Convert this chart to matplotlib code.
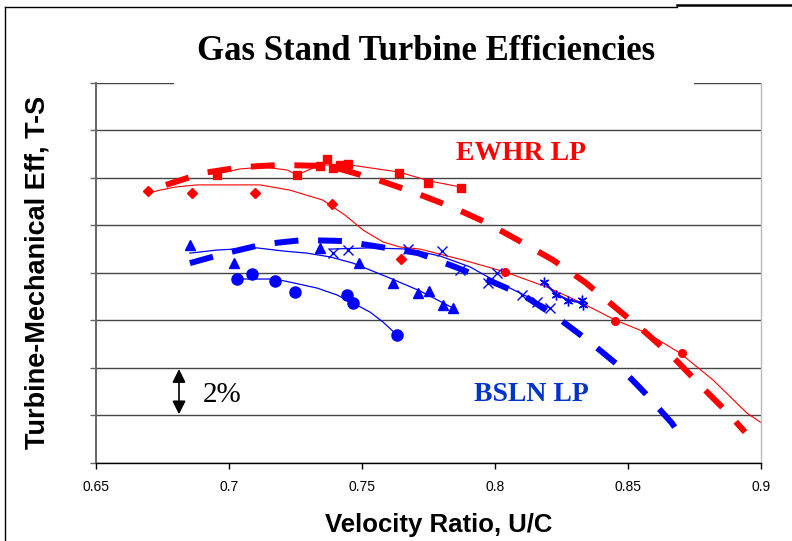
import matplotlib
matplotlib.use("Agg")
import matplotlib.pyplot as plt
from matplotlib.lines import Line2D
from matplotlib.patches import Rectangle

# EWHR LP test points (diamonds + round points share one trend line)
ewhr_d_x = [0.6697, 0.6860, 0.7098, 0.7388, 0.7645]
ewhr_d_y = [71.46, 71.37, 71.37, 70.90, 68.58]
ewhr_c_x = [0.8038, 0.8451, 0.8703]
ewhr_c_y = [68.04, 65.97, 64.63]
ewhr_d_fit_x = [0.6695, 0.6741, 0.6797, 0.6880, 0.7117, 0.7229, 0.7353, 0.7436, 0.7504,
                0.7579, 0.7642, 0.7718, 0.7880, 0.8038, 0.8195, 0.8320, 0.8451, 0.8571,
                0.8695, 0.8820, 0.8947, 0.9000]
ewhr_d_fit_y = [71.36, 71.48, 71.61, 71.70, 71.70, 71.48, 71.06, 70.43, 69.80,
                69.30, 69.09, 69.00, 68.54, 68.04, 67.40, 66.77, 66.02, 65.47,
                64.63, 63.49, 62.10, 61.70]

# EWHR LP squares
ewhr_s_x = [0.6954, 0.7256, 0.7342, 0.7368, 0.7391, 0.7417, 0.7447, 0.7639, 0.7748, 0.7872]
ewhr_s_y = [72.12, 72.12, 72.49, 72.79, 72.41, 72.54, 72.58, 72.20, 71.78, 71.57]
ewhr_s_fit_x = [0.6951, 0.7041, 0.7128, 0.7218, 0.7256, 0.7342, 0.7455, 0.7639, 0.7756, 0.7872]
ewhr_s_fit_y = [72.16, 72.37, 72.45, 72.33, 72.12, 72.54, 72.54, 72.24, 71.86, 71.61]

# EWHR LP prediction
ewhr_pred_x = [0.6763, 0.6902, 0.7049, 0.7192, 0.7380, 0.7560, 0.7692, 0.7838, 0.7962,
               0.8086, 0.8218, 0.8338, 0.8451, 0.8564, 0.8669, 0.8771, 0.8876, 0.8940]
ewhr_pred_y = [71.70, 72.20, 72.45, 72.54, 72.49, 71.91, 71.40, 70.77, 70.14,
               69.38, 68.54, 67.61, 66.56, 65.51, 64.46, 63.28, 62.10, 61.30]

# BSLN LP prediction
bsln_pred_x = [0.6853, 0.6989, 0.7132, 0.7278, 0.7429, 0.7568, 0.7711, 0.7850, 0.7992,
               0.8105, 0.8237, 0.8357, 0.8462, 0.8564, 0.8665, 0.8707]
bsln_pred_y = [68.41, 68.83, 69.21, 69.38, 69.34, 69.09, 68.83, 68.25, 67.61,
               67.07, 66.10, 65.09, 64.12, 62.94, 61.68, 60.97]

# BSLN LP triangles
bsln_t_x = [0.6853, 0.7019, 0.7342, 0.7489, 0.7617, 0.7711, 0.7752, 0.7805, 0.7842]
bsln_t_y = [69.17, 68.41, 69.05, 68.41, 67.57, 67.15, 67.24, 66.65, 66.52]
bsln_t_fit_x = [0.6853, 0.6955, 0.7105, 0.7203, 0.7293, 0.7380, 0.7466, 0.7530, 0.7605, 0.7718, 0.7842]
bsln_t_fit_y = [68.83, 68.96, 69.05, 68.92, 68.83, 68.67, 68.41, 68.12, 67.78, 67.24, 66.52]

# BSLN LP circles
bsln_c_x = [0.7030, 0.7086, 0.7173, 0.7248, 0.7444, 0.7466, 0.7632]
bsln_c_y = [67.74, 67.95, 67.66, 67.19, 67.07, 66.73, 65.38]
bsln_c_fit_x = [0.7030, 0.7173, 0.7229, 0.7331, 0.7406, 0.7466, 0.7530, 0.7579, 0.7632]
bsln_c_fit_y = [67.74, 67.74, 67.61, 67.36, 67.07, 66.73, 66.35, 65.93, 65.38]

# BSLN LP crosses
bsln_x_x = [0.7391, 0.7447, 0.7673, 0.7801, 0.7868, 0.7974, 0.8008, 0.8102, 0.8158, 0.8207]
bsln_x_y = [68.83, 68.96, 69.00, 68.92, 68.12, 67.57, 67.99, 67.07, 66.77, 66.52]
bsln_x_fit_x = [0.7380, 0.7530, 0.7673, 0.7793, 0.7906, 0.7981, 0.8056, 0.8132, 0.8207]
bsln_x_fit_y = [69.00, 69.05, 69.00, 68.71, 68.25, 67.78, 67.36, 66.94, 66.52]

# BSLN LP asterisks
bsln_a_x = [0.8184, 0.8229, 0.8274, 0.8327, 0.8331]
bsln_a_y = [67.61, 67.07, 66.82, 66.86, 66.65]
bsln_a_fit_x = [0.8184, 0.8229, 0.8274, 0.8331]
bsln_a_fit_y = [67.61, 67.11, 66.86, 66.73]

x_ticks = [0.65, 0.7, 0.75, 0.8, 0.85, 0.9]
x_tick_labels = ["0.65", "0.7", "0.75", "0.8", "0.85", "0.9"]
y_grid = [60, 62, 64, 66, 68, 70, 72, 74, 76]

RED = "#ff0000"
BLUE = "#0000ff"

fig = plt.figure(figsize=(7.92, 5.41), dpi=100)
W, H = 792, 541
ax = fig.add_axes([96 / W, 1 - 463 / H, (761 - 96) / W, (463 - 82.7) / H])

# thin trend lines
ax.plot(ewhr_d_fit_x, ewhr_d_fit_y, color=RED, lw=0.8)
ax.plot(ewhr_s_fit_x, ewhr_s_fit_y, color=RED, lw=0.8)
ax.plot(bsln_t_fit_x, bsln_t_fit_y, color=BLUE, lw=0.9)
ax.plot(bsln_c_fit_x, bsln_c_fit_y, color=BLUE, lw=0.9)
ax.plot(bsln_x_fit_x, bsln_x_fit_y, color=BLUE, lw=0.9)
ax.plot(bsln_a_fit_x, bsln_a_fit_y, color=BLUE, lw=1.5)

# predictions
ax.plot(ewhr_pred_x, ewhr_pred_y, color=RED, lw=4.3, dashes=(4.0, 3.3), solid_capstyle="butt")
ax.plot(bsln_pred_x, bsln_pred_y, color=BLUE, lw=4.3, dashes=(4.0, 3.3), solid_capstyle="butt")

# markers
ax.plot(ewhr_d_x, ewhr_d_y, ls="none", marker="D", ms=5, color=RED)
ax.plot(ewhr_c_x, ewhr_c_y, ls="none", marker="o", ms=5.5, color=RED)
ax.plot(ewhr_s_x, ewhr_s_y, ls="none", marker="s", ms=6, color=RED)
ax.plot(bsln_t_x, bsln_t_y, ls="none", marker="^", ms=7, color=BLUE)
ax.plot(bsln_c_x, bsln_c_y, ls="none", marker="o", ms=8, color=BLUE)
ax.plot(bsln_x_x, bsln_x_y, ls="none", marker="x", ms=7, mew=1, color=BLUE)
ax.plot(bsln_a_x, bsln_a_y, ls="none", marker=(6, 2, 0), ms=7, mew=1, color=BLUE)

ax.set_xlim(0.65, 0.9)
ax.set_ylim(60, 76)
ax.set_xticks(x_ticks)
ax.set_xticklabels(x_tick_labels, family=["Liberation Sans Narrow", "Liberation Sans"], fontsize=10)
ax.set_yticks(y_grid)
ax.set_yticklabels([])
ax.grid(axis="y", color="#444444", lw=1.0)
ax.set_axisbelow(True)
ax.tick_params(axis="x", direction="out", length=4, width=1, color="black", pad=8)
ax.tick_params(axis="y", direction="out", length=4, width=1, color="#666666")
ax.spines["top"].set_visible(False)
ax.spines["left"].set_color("#666666")
ax.spines["left"].set_linewidth(1.4)
ax.spines["bottom"].set_color("black")
ax.spines["bottom"].set_linewidth(1.0)
ax.spines["right"].set_color("#bbbbbb")
ax.spines["right"].set_linewidth(1.0)

# annotations
ax.text(0.8098, 73.04, "EWHR LP", color=RED, fontsize=20, fontweight="bold",
        family="Liberation Serif", ha="center", va="center")
ax.text(0.8135, 62.90, "BSLN LP", color="#0033cc", fontsize=20, fontweight="bold",
        family="Liberation Serif", ha="center", va="center")
ax.text(0.6902, 62.85, "2%", color="black", fontsize=21, family="Liberation Serif",
        ha="left", va="center")
ax.annotate("", xy=(0.6812, 63.95), xytext=(0.6812, 62.05),
            arrowprops=dict(arrowstyle="<|-|>", color="black", lw=1.2,
                            mutation_scale=20, shrinkA=0, shrinkB=0))

# title box over the top grid line
fig.patches.append(Rectangle((174 / W, 1 - 90 / H), (694 - 174) / W, 70 / H,
                             transform=fig.transFigure, facecolor="white",
                             edgecolor="none", zorder=5))
fig.text(426 / W, 1 - 52 / H, "Gas Stand Turbine Efficiencies", fontsize=25,
         fontweight="bold", family="Liberation Serif", ha="center", va="center", zorder=6)
fig.text(38 / W, 1 - 272 / H, "Turbine-Mechanical Eff, T-S", fontsize=19.5,
         fontweight="bold", family="Liberation Sans", rotation=90, ha="center", va="center")
fig.text(439 / W, 1 - 525 / H, "Velocity Ratio, U/C", fontsize=18.5,
         fontweight="bold", family="Liberation Sans", ha="center", va="center")

# outer frame pieces
fig.add_artist(Line2D([5 / W, 5 / W], [0, 1 - 7 / H], transform=fig.transFigure,
                      color="black", lw=1.0))
fig.add_artist(Line2D([5 / W, 677 / W], [1 - 7 / H, 1 - 7 / H], transform=fig.transFigure,
                      color="black", lw=1.0))
fig.add_artist(Line2D([677 / W, 1], [1 - 5 / H, 1 - 5 / H], transform=fig.transFigure,
                      color="black", lw=1.8))

fig.savefig("out.png", dpi=100)
